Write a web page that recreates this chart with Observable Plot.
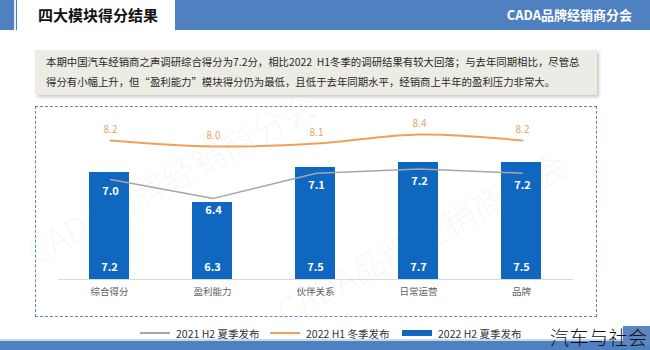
<!DOCTYPE html>
<html>
<head>
<meta charset="utf-8">
<script src="https://cdn.jsdelivr.net/npm/d3@7"></script>
<script src="https://cdn.jsdelivr.net/npm/@observablehq/plot@0.6"></script>
<style>
  html, body { margin: 0; padding: 0; }
  body { width: 650px; height: 350px; position: relative; overflow: hidden; background: #ffffff;
         font-family: "Noto Sans CJK SC", "Noto Sans", sans-serif; }
  .abs { position: absolute; }
  #hdr { left: 0; top: 0; width: 650px; height: 30px; background: #4f80bf; }
  #tab { left: 17px; top: 0; width: 158px; height: 30px; background: #ffffff; }
  #tabline { left: 14px; top: 0; width: 2px; height: 30px; background: #e8eef6; }
  #title { left: 38px; top: 0; height: 30px; line-height: 29px; font-size: 15px; font-weight: bold; color: #111; }
  #org { right: 18px; top: 0; height: 30px; line-height: 30px; font-size: 13px; font-weight: bold; color: #fff; }
  #note { left: 35px; top: 50px; width: 562px; height: 45px; background: #ecebe4;
          box-shadow: 2px 2px 3px rgba(0,0,0,0.22); box-sizing: border-box; padding: 2px 0 0 11px;
          font-size: 10.4px; line-height: 20px; color: #2a2a2a; white-space: nowrap; }
  #box { left: 35px; top: 106px; width: 562px; height: 211px; box-sizing: border-box;
         border: 1.6px dashed #5a86bd; }
  .leg { position: absolute; top: 325px; height: 16px; display: flex; align-items: center;
         font-size: 10.5px; color: #333; white-space: nowrap; }
  .sw { width: 30px; margin-right: 6px; }
  #foot { left: 0; top: 341px; width: 650px; height: 9px; background: #4f80bf; }
  #footline { left: 0; top: 339px; width: 650px; height: 2px; background: #c9d7ea; }
  #brandbox { left: 623px; top: 326px; width: 27px; height: 19px; background: #5a87c4; }
  #brand { left: 550px; top: 323px; font-size: 19px; font-weight: 300; color: #111; letter-spacing: 0.5px; }
  .wm { position: absolute; font-size: 34px; color: rgba(160,172,190,0.09); transform-origin: left bottom;
        white-space: nowrap; pointer-events: none; font-weight: 300; }
</style>
</head>
<body>
<div id="hdr" class="abs"></div>
<div id="tabline" class="abs"></div>
<div id="tab" class="abs"></div>
<div id="title" class="abs">四大模块得分结果</div>
<div id="org" class="abs">CADA品牌经销商分会</div>
<div class="wm" style="left:40px; top:225px; transform: rotate(-28deg);">CADA品牌经销商分会</div>
<div class="wm" style="left:290px; top:285px; transform: rotate(-28deg);">CADA品牌经销商分会</div>
<div id="note" class="abs">本期中国汽车经销商之声调研综合得分为7.2分，相比2022&nbsp;&nbsp;H1冬季的调研结果有较大回落；与去年同期相比，尽管总<br>得分有小幅上升，但“盈利能力”模块得分仍为最低，且低于去年同期水平，经销商上半年的盈利压力非常大。</div>
<div id="box" class="abs"></div>
<div id="charts"></div>
<div id="legend"></div>
<div id="footline" class="abs"></div>
<div id="foot" class="abs"></div>
<div id="brandbox" class="abs"></div>
<div id="brand" class="abs">汽车与社会</div>
<script>
// ---- data ----
const categories = ["综合得分", "盈利能力", "伙伴关系", "日常运营", "品牌"];
const scores2022H2 = [7.0, 6.4, 7.1, 7.2, 7.2];   // bars
const scores2022H1 = [8.2, 8.0, 8.1, 8.4, 8.2];   // orange line
const scores2021H2 = [7.2, 6.3, 7.5, 7.7, 7.5];   // gray line
const seriesNames = ["2021 H2 夏季发布", "2022 H1 冬季发布", "2022 H2 夏季发布"];

const rows = categories.map((c, i) => ({
  cat: c, h22: scores2022H2[i], h1: scores2022H1[i], h21: scores2021H2[i]
}));

// ---- styles ----
const BLUE = "#0f67c0", ORANGE = "#f0a05e", ORANGE_TXT = "#e8a46f", GRAY = "#a6a6a6";
const FONT = "'Noto Sans CJK SC', 'Noto Sans', sans-serif";

// each series has its own value axis (as in the original combo chart)
const barDomain = [4.86, 8.0];
const h1Domain = [3.567, 8.8];
const h21Domain = [2.438, 9.914];

const base = {
  width: 562, height: 211,
  marginLeft: 23, marginRight: 24, marginTop: 16, marginBottom: 38,
  style: { background: "transparent", fontFamily: FONT, fontSize: "9.5px", color: "#606060", overflow: "visible" }
};
const xNoAxis = { domain: categories, paddingInner: 0.61, paddingOuter: 0.305, axis: null };

const barsPlot = Plot.plot({
  ...base,
  x: { domain: categories, paddingInner: 0.61, paddingOuter: 0.305, axis: "bottom", tickSize: 0, tickPadding: 9, label: null },
  y: { domain: barDomain, axis: null, clamp: true },
  marks: [
    Plot.barY(rows, { x: "cat", y: "h22", fill: BLUE }),
    Plot.ruleY([barDomain[0]], { stroke: "#d9d9d9", strokeWidth: 1 }),
    Plot.text(rows, { x: "cat", text: d => d.h21.toFixed(1), frameAnchor: "bottom", dy: -9,
                      fill: "white", fontWeight: "bold", fontSize: 11 })
  ]
});

const orangePlot = Plot.plot({
  ...base,
  x: xNoAxis,
  y: { domain: h1Domain, axis: null },
  marks: [
    Plot.line(rows, { x: "cat", y: "h1", stroke: ORANGE, strokeWidth: 2, curve: "catmull-rom" }),
    Plot.text(rows, { x: "cat", y: "h1", text: d => d.h1.toFixed(1), dy: -11, fill: ORANGE_TXT, fontSize: 10 })
  ]
});

const grayPlot = Plot.plot({
  ...base,
  x: xNoAxis,
  y: { domain: h21Domain, axis: null },
  marks: [
    Plot.line(rows, { x: "cat", y: "h21", stroke: GRAY, strokeWidth: 1.5 }),
    Plot.text(rows, { x: "cat", y: "h21", text: d => d.h22.toFixed(1), dy: 12,
                      fill: "white", fontWeight: "bold", fontSize: 11 })
  ]
});

const holder = document.getElementById("charts");
for (const p of [barsPlot, orangePlot, grayPlot]) {
  p.style.position = "absolute";
  p.style.left = "35px";
  p.style.top = "106px";
  holder.appendChild(p);
}

// ---- legend ----
const legend = document.getElementById("legend");
const legItems = [
  { name: seriesNames[0], left: 140, sw: `<div class="sw" style="height:1.5px;background:${GRAY}"></div>` },
  { name: seriesNames[1], left: 270, sw: `<div class="sw" style="height:2px;background:${ORANGE}"></div>` },
  { name: seriesNames[2], left: 402, sw: `<div class="sw" style="height:6px;background:${BLUE}"></div>` }
];
for (const it of legItems) {
  const d = document.createElement("div");
  d.className = "leg";
  d.style.left = it.left + "px";
  d.innerHTML = it.sw + `<span>${it.name}</span>`;
  legend.appendChild(d);
}
</script>
</body>
</html>
